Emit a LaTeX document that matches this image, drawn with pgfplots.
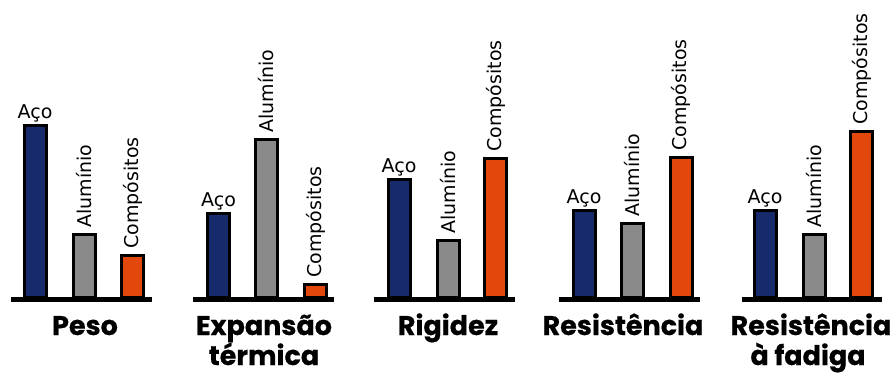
\documentclass[border=0pt]{standalone}
\usepackage{pgfplots}
\pgfplotsset{compat=1.18}
\usepackage{fontspec}
\setmainfont{DejaVu Sans}
\newfontfamily\grpfont{Poppins}[FakeBold=0.6]
\definecolor{aco}{HTML}{172A6B}
\definecolor{alu}{HTML}{8A8A8A}
\definecolor{comp}{HTML}{E2480C}

\begin{document}
\begin{tikzpicture}
\begin{axis}[
  scale only axis,
  x=1pt, y=1pt,
  xmin=0, xmax=892, ymin=-79, ymax=297,
  hide axis,
  clip=false,
  every node near coord/.append style={font=\fontsize{19}{20}\selectfont, black},
  bars/.style={ybar, bar width=22pt, bar shift=0pt, draw=black, line width=3pt},
  vlabel/.style={every node near coord/.append style={rotate=90, anchor=west, inner xsep=5pt, inner ysep=0pt}},
]
\path (axis cs:0,-79) rectangle (axis cs:892,297);

% Aço
\addplot[bars, fill=aco,
  nodes near coords={Aço},
  every node near coord/.append style={anchor=base, yshift=7pt, inner sep=0pt}]
  coordinates {(35,172) (218.5,84) (399,118) (584,87) (765,87)};

% Alumínio
\addplot[bars, fill=alu, vlabel, nodes near coords={Alumínio}]
  coordinates {(84,63) (266.5,158) (448,57) (632,74) (814,63)};

% Compósitos
\addplot[bars, fill=comp, vlabel, nodes near coords={Compósitos}]
  coordinates {(132.5,42) (315.5,13) (495.5,139) (681,140) (861.5,166)};

% group baselines
\draw[line width=5pt] (axis cs:11,-2.5) -- (axis cs:152,-2.5);
\draw[line width=5pt] (axis cs:193,-2.5) -- (axis cs:334,-2.5);
\draw[line width=5pt] (axis cs:374,-2.5) -- (axis cs:515,-2.5);
\draw[line width=5pt] (axis cs:559,-2.5) -- (axis cs:700,-2.5);
\draw[line width=5pt] (axis cs:742,-2.5) -- (axis cs:882,-2.5);

% group names
\begin{scope}[every node/.style={font=\grpfont\bfseries\fontsize{27}{30}\selectfont, anchor=base, inner sep=0pt}]
\node at (axis cs:85,-38) {Peso};
\node at (axis cs:264,-38) {Expansão};
\node at (axis cs:264,-68) {térmica};
\node at (axis cs:448,-38) {Rigidez};
\node at (axis cs:623,-38) {Resistência};
\node at (axis cs:811,-38) {Resistência};
\node at (axis cs:808,-68) {à fadiga};
\end{scope}
\end{axis}
\end{tikzpicture}
\end{document}
